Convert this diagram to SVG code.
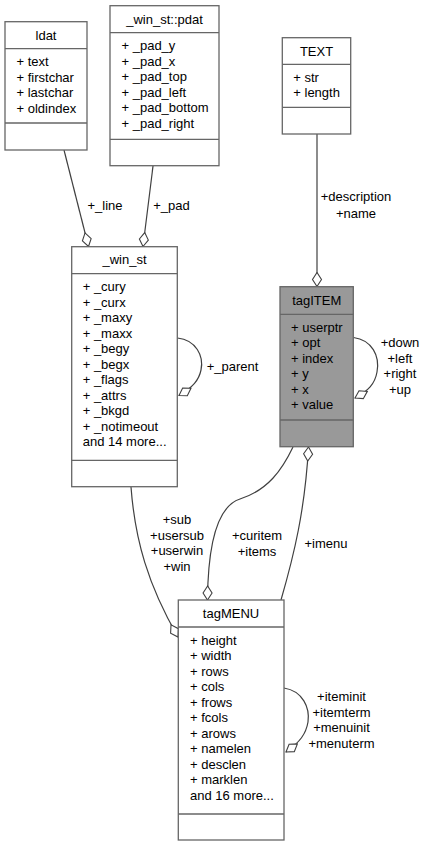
<svg xmlns="http://www.w3.org/2000/svg" width="426" height="847" viewBox="0 0 426 847">
<style>
text{font-family:"Liberation Sans",Arial,sans-serif;font-size:13px;fill:#000}
.box{fill:#fff;stroke:#666;stroke-width:1.3}
.sel{fill:#999;stroke:#666;stroke-width:1.3}
.sep{stroke:#666;stroke-width:1.3}
.t{text-anchor:middle}
.e{fill:none;stroke:#404040;stroke-width:1.2;marker-end:url(#dia)}
.l{text-anchor:middle}
</style>
<defs>
<marker id="dia" markerUnits="userSpaceOnUse" viewBox="-15 -6 16 12" refX="0" refY="0" markerWidth="16" markerHeight="12" orient="auto">
<path d="M0,0 L-7,-4.5 L-14,0 L-7,4.5 Z" fill="#fff" stroke="#404040" stroke-width="1.1"/>
</marker>
</defs>
<g id="connectors">
<path class="e" d="M64,150 L88.5,246.5"/>
<path class="e" d="M153,166 L143,246.5"/>
<path class="e" d="M317,134 L317,286.5"/>
<path class="e" d="M177.5,338 C196,340 204,356 201,370 C199,380 193,387 179,395.5"/>
<path class="e" d="M353.5,337.5 C372,340 380,356 377,372 C375,384 368,391 355,398"/>
<path class="e" d="M284,688 C303,691 310,708 308,722 C306,734 300,742 286,752"/>
<path class="e" d="M131,487 C135,540 148,585 178,637"/>
<path class="e" d="M293,447 C282,470 268,490 240,499 C218,506 208,540 207.5,600"/>
<path class="e" d="M281,600 C294,555 305,510 308.5,447"/>
<text class="l" x="105" y="210">+_line</text>
<text class="l" x="171.5" y="210">+_pad</text>
<text class="l" x="356" y="201">+description</text>
<text class="l" x="356" y="217.5">+name</text>
<text class="l" x="400" y="347">+down</text>
<text class="l" x="400" y="362.5">+left</text>
<text class="l" x="400" y="378">+right</text>
<text class="l" x="400" y="393.5">+up</text>
<text class="l" x="232.5" y="371">+_parent</text>
<text class="l" x="177" y="524">+sub</text>
<text class="l" x="177" y="539.5">+usersub</text>
<text class="l" x="177" y="555">+userwin</text>
<text class="l" x="177" y="570.5">+win</text>
<text class="l" x="257" y="540">+curitem</text>
<text class="l" x="257" y="555.5">+items</text>
<text class="l" x="326" y="548">+imenu</text>
<text class="l" x="341.5" y="701">+iteminit</text>
<text class="l" x="341.5" y="716.5">+itemterm</text>
<text class="l" x="341.5" y="732">+menuinit</text>
<text class="l" x="341.5" y="747.5">+menuterm</text>
</g>
<g id="ldat">
<rect class="box" x="5" y="21.7" width="82" height="128.3"/>
<line class="sep" x1="5" y1="48.7" x2="87" y2="48.7"/>
<line class="sep" x1="5" y1="123" x2="87" y2="123"/>
<text class="t" x="46" y="40">ldat</text>
<text x="16.5" y="66.2">+ text</text>
<text x="16.5" y="81.7">+ firstchar</text>
<text x="16.5" y="97.2">+ lastchar</text>
<text x="16.5" y="112.7">+ oldindex</text>
</g>
<g id="pdat">
<rect class="box" x="110" y="5.7" width="109" height="160"/>
<line class="sep" x1="110" y1="32.7" x2="219" y2="32.7"/>
<line class="sep" x1="110" y1="139.3" x2="219" y2="139.3"/>
<text class="t" x="164.5" y="24">_win_st::pdat</text>
<text x="121.5" y="50.2">+ _pad_y</text>
<text x="121.5" y="65.7">+ _pad_x</text>
<text x="121.5" y="81.2">+ _pad_top</text>
<text x="121.5" y="96.7">+ _pad_left</text>
<text x="121.5" y="112.2">+ _pad_bottom</text>
<text x="121.5" y="127.7">+ _pad_right</text>
</g>
<g id="TEXT">
<rect class="box" x="282.3" y="37.7" width="68.4" height="96.3"/>
<line class="sep" x1="282.3" y1="64.3" x2="350.7" y2="64.3"/>
<line class="sep" x1="282.3" y1="107.3" x2="350.7" y2="107.3"/>
<text class="t" x="316.5" y="56">TEXT</text>
<text x="293.3" y="81.8">+ str</text>
<text x="293.3" y="97.3">+ length</text>
</g>
<g id="tagITEM">
<rect class="sel" x="280" y="286.7" width="73.3" height="160"/>
<line class="sep" x1="280" y1="314.3" x2="353.3" y2="314.3"/>
<line class="sep" x1="280" y1="420" x2="353.3" y2="420"/>
<text class="t" x="316.7" y="305">tagITEM</text>
<text x="291" y="331.8">+ userptr</text>
<text x="291" y="347.3">+ opt</text>
<text x="291" y="362.8">+ index</text>
<text x="291" y="378.3">+ y</text>
<text x="291" y="393.8">+ x</text>
<text x="291" y="409.3">+ value</text>
</g>
<g id="_win_st">
<rect class="box" x="71.7" y="246.7" width="105.6" height="240"/>
<line class="sep" x1="71.7" y1="273.7" x2="177.3" y2="273.7"/>
<line class="sep" x1="71.7" y1="460.3" x2="177.3" y2="460.3"/>
<text class="t" x="124.5" y="264">_win_st</text>
<text x="82.7" y="291.2">+ _cury</text>
<text x="82.7" y="306.7">+ _curx</text>
<text x="82.7" y="322.2">+ _maxy</text>
<text x="82.7" y="337.7">+ _maxx</text>
<text x="82.7" y="353.2">+ _begy</text>
<text x="82.7" y="368.7">+ _begx</text>
<text x="82.7" y="384.2">+ _flags</text>
<text x="82.7" y="399.7">+ _attrs</text>
<text x="82.7" y="415.2">+ _bkgd</text>
<text x="82.7" y="430.7">+ _notimeout</text>
<text x="82.7" y="446.2">and 14 more...</text>
</g>
<g id="tagMENU">
<rect class="box" x="178.3" y="600" width="105.7" height="240"/>
<line class="sep" x1="178.3" y1="627" x2="284" y2="627"/>
<line class="sep" x1="178.3" y1="814" x2="284" y2="814"/>
<text class="t" x="231" y="618.3">tagMENU</text>
<text x="190" y="644.5">+ height</text>
<text x="190" y="660">+ width</text>
<text x="190" y="675.5">+ rows</text>
<text x="190" y="691">+ cols</text>
<text x="190" y="706.5">+ frows</text>
<text x="190" y="722">+ fcols</text>
<text x="190" y="737.5">+ arows</text>
<text x="190" y="753">+ namelen</text>
<text x="190" y="768.5">+ desclen</text>
<text x="190" y="784">+ marklen</text>
<text x="190" y="799.5">and 16 more...</text>
</g>
</svg>
